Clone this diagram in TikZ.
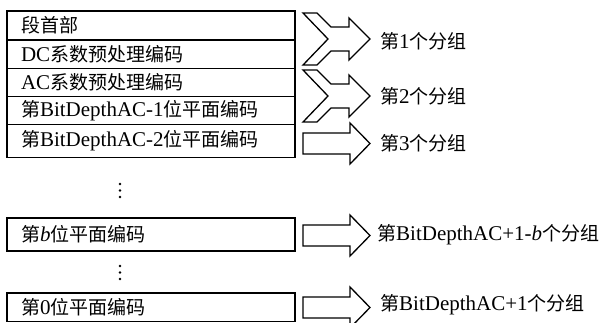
\documentclass[tikz,border=0pt]{standalone}
\usepackage{fontspec}
\setmainfont{Liberation Serif}
\newfontfamily\cjk{Noto Sans CJK SC}[Scale=0.905]
\newcommand\zh[1]{{\cjk #1}}
\begin{document}
\begin{tikzpicture}[x=1pt,y=-1pt,line join=miter,
  txt/.style={font=\fontsize{21}{22}\selectfont},
  rowbox/.style={draw,line width=1.4pt,anchor=north west,minimum width=288pt,
    text width=260pt,inner xsep=14pt,inner ysep=0pt,outer sep=0pt,align=left,txt},
  lab/.style={anchor=west,inner sep=0pt,txt},
  arrowline/.style={draw,line width=1.3pt,fill=white},
  mergearrow/.pic={\path[arrowline] (0,-26) -- (14,-26) -- (28,-12) -- (46,-12) -- (46,-21) -- (67,0) -- (46,21) -- (46,12) -- (28,12) -- (14,26) -- (0,26) -- (25,0) -- cycle;},
  straightarrow/.pic={\path[arrowline] (0,-10.5) -- (47,-10.5) -- (47,-20.5) -- (67,0) -- (47,20.5) -- (47,10.5) -- (0,10.5) -- cycle;}]
\useasboundingbox (0,0) rectangle (602,322);
\clip (0,0) rectangle (602,322);
% stacked rows
\node[rowbox,minimum height=29pt]   (r1) at (7,11)    {\zh{段首部}};
\node[rowbox,minimum height=28.3pt] (r2) at (7,40)    {DC\zh{系数预处理编码}};
\node[rowbox,minimum height=28.4pt] (r3) at (7,68.3)  {AC\zh{系数预处理编码}};
\node[rowbox,minimum height=27.6pt] (r4) at (7,96.7)  {\zh{第}BitDepthAC-1\zh{位平面编码}};
\node[rowbox,minimum height=33pt]   (r5) at (7,124.3) {\zh{第}BitDepthAC-2\zh{位平面编码}};
\node[rowbox,minimum height=33pt]   (rb) at (7,218)   {\zh{第}\textit{b}\zh{位平面编码}};
\node[rowbox,minimum height=28.5pt] (r0) at (7,293)   {\zh{第}0\zh{位平面编码}};
% dots
\foreach \y in {184,190.5,197} \fill (120,\y) circle (1.3pt);
\foreach \y in {266,272.5,279} \fill (120,\y) circle (1.3pt);
% arrows
\pic at (303,39) {mergearrow};
\pic at (303,96) {mergearrow};
\pic at (303,143.5) {straightarrow};
\pic at (303,235.5) {straightarrow};
\pic at (303,307.5) {straightarrow};
% labels
\node[lab] (g1) at (380,41)  {\zh{第}1\zh{个分组}};
\node[lab] (g2) at (380,96)  {\zh{第}2\zh{个分组}};
\node[lab] (g3) at (380,143) {\zh{第}3\zh{个分组}};
\node[lab] (gb) at (377,235) {\zh{第}BitDepthAC+1-\textit{b}\zh{个分组}};
\node[lab] (g0) at (380,305) {\zh{第}BitDepthAC+1\zh{个分组}};
\end{tikzpicture}
\end{document}
